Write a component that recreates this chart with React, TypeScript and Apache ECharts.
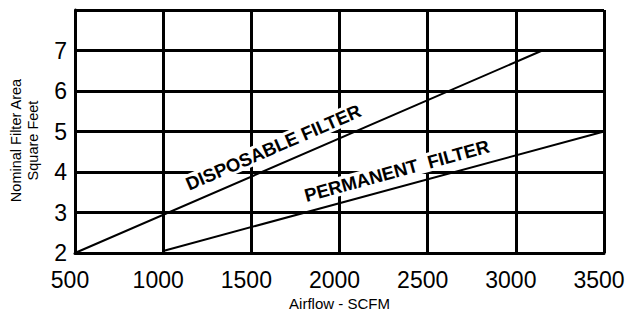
import React, { useEffect, useRef } from "react";
import * as echarts from "echarts";

const xTicks = [500, 1000, 1500, 2000, 2500, 3000, 3500];
const yTicks = [2, 3, 4, 5, 6, 7, 8];
const yHiddenLabels = [8];
const disposableFilter = [
  [500, 2],
  [3150, 7],
];
const permanentFilter = [
  [1000, 2.05],
  [3500, 5],
];
const labelTexts = ["DISPOSABLE FILTER", "PERMANENT  FILTER"];
const labelAnchors = [
  [1625, 4.61],
  [2325, 4.03],
];
const xName = "Airflow - SCFM";
const yName = "Nominal Filter Area\nSquare Feet";

const FONT = "'Liberation Sans', Arial, Helvetica, sans-serif";

export default function App() {
  const ref = useRef<HTMLDivElement>(null);
  useEffect(() => {
    if (!ref.current) return;
    const chart = echarts.init(ref.current, undefined, { renderer: "svg" });
    const lineStyle = { color: "#000", width: 3 };
    chart.setOption({
      animation: false,
      backgroundColor: "#fff",
      grid: {
        left: 75,
        right: 21,
        top: 10,
        bottom: 57,
        containLabel: false,
        outerBoundsMode: "none",
      },
      xAxis: {
        type: "value",
        min: xTicks[0],
        max: xTicks[xTicks.length - 1],
        interval: xTicks[1] - xTicks[0],
        name: xName,
        nameLocation: "middle",
        nameGap: 39,
        nameTextStyle: { fontFamily: FONT, fontSize: 15, lineHeight: 13, color: "#000" },
        axisLine: { show: true, lineStyle },
        axisTick: { show: false },
        splitLine: { show: true, lineStyle },
        axisLabel: {
          fontFamily: FONT,
          fontSize: 23,
          lineHeight: 18,
          color: "#000",
          margin: 18,
          padding: [0, 10, 0, 0],
          formatter: (v: number) => String(v),
        },
      },
      yAxis: {
        type: "value",
        min: yTicks[0],
        max: yTicks[yTicks.length - 1],
        interval: yTicks[1] - yTicks[0],
        name: yName,
        nameLocation: "middle",
        nameGap: 34,
        nameRotate: 90,
        nameTextStyle: {
          fontFamily: FONT,
          fontSize: 14.5,
          color: "#000",
          lineHeight: 16.5,
          padding: [0, 18, 0, 0],
        },
        axisLine: { show: true, lineStyle },
        axisTick: { show: false },
        splitLine: { show: true, lineStyle },
        axisLabel: {
          fontFamily: FONT,
          fontSize: 23,
          lineHeight: 18,
          color: "#000",
          margin: 8,
          formatter: (v: number) => (yHiddenLabels.includes(v) ? "" : String(v)),
        },
      },
      series: [
        {
          name: "Disposable Filter",
          type: "line",
          data: disposableFilter,
          symbol: "none",
          lineStyle: { color: "#000", width: 2 },
          z: 3,
        },
        {
          name: "Permanent Filter",
          type: "line",
          data: permanentFilter,
          symbol: "none",
          lineStyle: { color: "#000", width: 2 },
          z: 3,
        },
      ],
    });

    const lines = [disposableFilter, permanentFilter];
    const graphics = labelTexts.map((t, i) => {
      const line = lines[i];
      const p0 = chart.convertToPixel({ gridIndex: 0 }, line[0]) as number[];
      const p1 = chart.convertToPixel({ gridIndex: 0 }, line[line.length - 1]) as number[];
      const angle = Math.atan2(-(p1[1] - p0[1]), p1[0] - p0[0]);
      const c = chart.convertToPixel({ gridIndex: 0 }, labelAnchors[i]) as number[];
      return {
        type: "text",
        x: c[0],
        y: c[1],
        rotation: angle,
        z: 10,
        style: {
          text: t,
          fontFamily: FONT,
          fontSize: 18.5,
          fontWeight: "bold",
          fill: "#000",
          align: "center",
          verticalAlign: "middle",
          backgroundColor: "#fff",
          padding: [0, 3],
        },
      };
    });
    chart.setOption({ graphic: graphics });

    return () => chart.dispose();
  }, []);
  return (
    <div
      ref={ref}
      style={{ position: "fixed", left: 0, top: 0, width: 625, height: 310 }}
    />
  );
}
